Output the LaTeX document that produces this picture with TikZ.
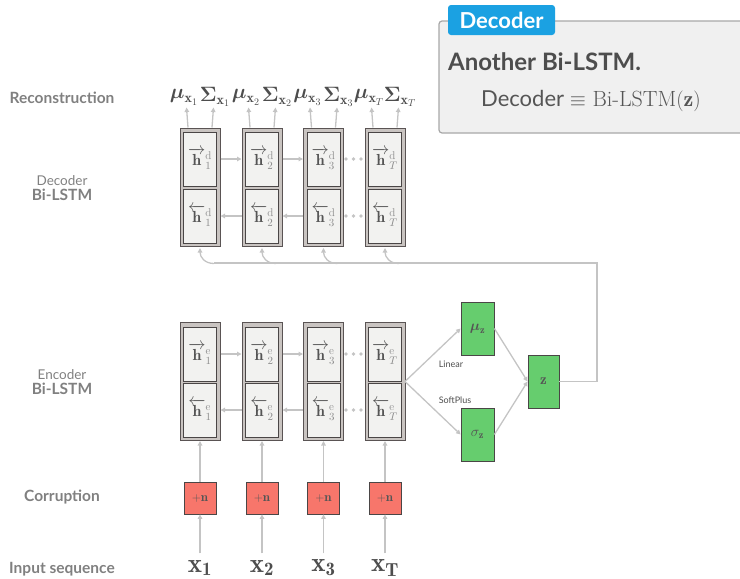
\documentclass[tikz,border=0pt]{standalone}
\usepackage{amsmath}
\usepackage{fontspec}
\setsansfont{Lato}
\usetikzlibrary{arrows.meta,calc}
\definecolor{lbl}{HTML}{808080}
\definecolor{arrgray}{HTML}{C4C4C4}
\definecolor{outerfill}{HTML}{C9C4C1}
\definecolor{boxedge}{HTML}{5A5454}
\definecolor{cellfill}{HTML}{F2F2F0}
\definecolor{celledge}{HTML}{4A4646}
\definecolor{celltext}{HTML}{555555}
\definecolor{supgray}{HTML}{8A8A8A}
\definecolor{noisefill}{HTML}{F7766B}
\definecolor{greenfill}{HTML}{66CD6E}
\definecolor{panelfill}{HTML}{F0F0F0}
\definecolor{paneledge}{HTML}{A8A8A8}
\definecolor{tabblue}{HTML}{1BA1E2}
\definecolor{darktext}{HTML}{4D4D4D}
\newcommand{\hsup}[2]{{}^{{\color{supgray}\mathrm{#1}}}_{{\color{supgray}#2}}}
\begin{document}
\begin{tikzpicture}[x=1pt,y=-1pt,
  outerbox/.style={draw=boxedge, fill=outerfill, line width=1pt, minimum width=40pt, minimum height=118pt, inner sep=0pt},
  cell/.style={draw=celledge, fill=cellfill, line width=0.8pt, minimum width=33pt, minimum height=54pt, inner sep=0pt, text=celltext, font=\fontsize{16}{18}\selectfont},
  arr/.style={draw=arrgray, line width=1.3pt, -{Triangle[length=4.5pt,width=4.5pt]}},
  plain/.style={draw=arrgray, line width=1.3pt},
  sidelbl/.style={text=lbl, font=\sffamily\bfseries\fontsize{15.5}{17}\selectfont},
  sidelight/.style={text=lbl, font=\sffamily\fontsize{13.5}{15}\selectfont},
  noisebox/.style={draw=celledge, fill=noisefill, line width=0.8pt, minimum width=32pt, minimum height=32pt, inner sep=0pt, text=celltext, font=\fontsize{13}{15}\selectfont},
  greenbox/.style={draw=celledge, fill=greenfill, line width=0.8pt, minimum width=33pt, minimum height=53pt, inner sep=0pt, text=celltext, font=\fontsize{15}{17}\selectfont},
  outlbl/.style={text=darktext, font=\fontsize{20}{22}\selectfont, inner sep=1pt},
  inlbl/.style={text=darktext, font=\fontsize{27}{29}\selectfont, inner sep=1pt},
  dotc/.style={circle, fill=arrgray, inner sep=0pt, minimum size=3.8pt},
  smalllbl/.style={text=darktext, font=\sffamily\fontsize{9}{10}\selectfont}
]
\useasboundingbox (0,0) rectangle (740,579);

% left labels
\node[sidelbl] (lrec) at (62,98) {Reconstruction};
\node[sidelight] (ldec1) at (62,181) {Decoder};
\node[sidelbl] (ldec2) at (62,195) {Bi-LSTM};
\node[sidelight] (lenc1) at (62,375) {Encoder};
\node[sidelbl] (lenc2) at (62,389) {Bi-LSTM};
\node[sidelbl] (lcor) at (62,497) {Corruption};
\node[sidelbl] (linp) at (62,569) {Input sequence};

% columns
\foreach \i/\cx/\s in {1/200/1,2/262/2,3/323.5/3,4/385/T}{
  % decoder
  \node[outerbox] (dec\i) at (\cx,187) {};
  \node[cell] (dt\i) at (\cx,159) {$\overrightarrow{\mathbf{h}}\hsup{d}{\s}$};
  \node[cell] (db\i) at (\cx,216) {$\overleftarrow{\mathbf{h}}\hsup{d}{\s}$};
  % encoder
  \node[outerbox] (enc\i) at (\cx,381.5) {};
  \node[cell] (et\i) at (\cx,354) {$\overrightarrow{\mathbf{h}}\hsup{e}{\s}$};
  \node[cell] (eb\i) at (\cx,410) {$\overleftarrow{\mathbf{h}}\hsup{e}{\s}$};
  % outputs
  \node[outlbl] (mu\i) at (\cx-16,97) {$\boldsymbol{\mu}_{\mathbf{x}_{\s}}$};
  \node[outlbl] (sg\i) at (\cx+15,97) {$\boldsymbol{\Sigma}_{\mathbf{x}_{\s}}$};
  \draw[arr] ($(dec\i.north)+(-12,0)$) -- ($(dec\i.north)+(-13.5,-20)$);
  \draw[arr] ($(dec\i.north)+(12,0)$) -- ($(dec\i.north)+(13.5,-20)$);
  % corruption and input
  \node[noisebox] (n\i) at (\cx,498) {$+\mathbf{n}$};
  \node[inlbl] (x\i) at (\cx,568) {$\mathbf{x_{\s}}$};
  \draw[arr] ($(n\i.south)+(0,39)$) -- (n\i.south);
  \draw[arr] (n\i.north) -- (enc\i.south);
}

% recurrent arrows
\foreach \a/\b in {1/2,2/3}{
  \draw[arr] (dt\a.east -| dec\a.east) -- (dt\b.west -| dec\b.west);
  \draw[arr] (db\b.west -| dec\b.west) -- (db\a.east -| dec\a.east);
  \draw[arr] (et\a.east -| enc\a.east) -- (et\b.west -| enc\b.west);
  \draw[arr] (eb\b.west -| enc\b.west) -- (eb\a.east -| enc\a.east);
}
% dots
\foreach \y in {159,216,354,410}{
  \foreach \x in {346,353.5,361}{
    \node[dotc] at (\x,\y) {};
  }
}

% latent
\node[greenbox] (muz) at (477.5,328.5) {$\boldsymbol{\mu}_{\mathbf{z}}$};
\node[greenbox] (sigz) at (477.5,434.5) {$\sigma_{\mathbf{z}}$};
\node[greenbox, minimum width=31pt] (z) at (543.5,381.5) {$\mathbf{z}$};
\coordinate (split) at (405,381.5);
\draw[arr] (split) -- (muz.west);
\draw[arr] (split) -- (sigz.west);
\node[smalllbl] (llin) at (451,364) {Linear};
\node[smalllbl] (lsp) at (455,400) {SoftPlus};
\draw[arr] (muz.east) -- (z.west);
\draw[arr] (sigz.east) -- (z.west);

% feedback to decoder
\coordinate (zc1) at (597,381.5);
\coordinate (zc2) at (597,263);
\coordinate (zc3) at (214,263);
\draw[plain] (z.east) -- (zc1) -- (zc2) -- (zc3);
\foreach \i in {1,2,3,4}{
  \draw[arr] ($(dec\i.south)+(14,17)$) .. controls ($(dec\i.south)+(5,17)$) and ($(dec\i.south)+(0,11)$) .. ($(dec\i.south)+(0,1.5)$);
}

% decoder panel
\node[draw=paneledge, fill=panelfill, line width=1.2pt, rounded corners=3pt, minimum width=306pt, minimum height=112pt, inner sep=0pt] (panel) at (592,77) {};
\node[fill=tabblue, rounded corners=3pt, minimum width=107pt, minimum height=30pt, inner sep=0pt, text=white, font=\sffamily\bfseries\fontsize{22}{24}\selectfont] (tab) at (501.5,20) {Decoder};
\node[anchor=west, text=darktext, font=\sffamily\bfseries\fontsize{24}{26}\selectfont, inner sep=0pt] (ptitle) at (448,62) {Another Bi-LSTM.};
\node[anchor=west, text=celltext, font=\fontsize{22}{24}\selectfont, inner sep=0pt] (pbody) at (481,101) {\sffamily Decoder \rmfamily $\equiv$ Bi-LSTM$(\mathbf{z})$};
\end{tikzpicture}
\end{document}
